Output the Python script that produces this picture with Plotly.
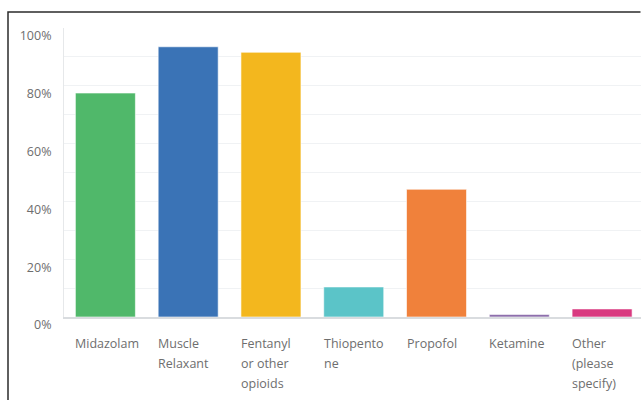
import plotly.graph_objects as go

# Survey responses: share of respondents using each agent
categories = ["Midazolam", "Muscle Relaxant", "Fentanyl or other opioids",
              "Thiopentone", "Propofol", "Ketamine", "Other (please specify)"]
label_lines = [["Midazolam"], ["Muscle", "Relaxant"], ["Fentanyl", "or other", "opioids"],
               ["Thiopento", "ne"], ["Propofol"], ["Ketamine"], ["Other", "(please", "specify)"]]
percent = [77.5, 93.5, 91.6, 10.4, 44.2, 0.9, 2.8]
colors = ["#50b86a", "#3a73b6", "#f3b71e", "#5bc4c8", "#f0813b", "#8d6fac", "#d93a80"]
y_ticks = [0, 10, 20, 30, 40, 50, 60, 70, 80, 90, 100]
y_ticktext = ["0%", "", "20%", "", "40%", "", "60%", "", "80%", "", "100%"]

W, H = 641, 400
ML, MR, MT, MB = 64, 0, 28, 83
plot_w = W - ML - MR
plot_h = H - MT - MB

fig = go.Figure(go.Bar(
    x=list(range(len(categories))),
    y=percent,
    marker=dict(color=colors, line=dict(color="rgba(255,255,255,0.6)", width=1)),
    hovertext=categories,
))

# category labels, left-aligned under each bar, one annotation per line
for i, lines in enumerate(label_lines):
    for j, line in enumerate(lines):
        fig.add_annotation(
            x=i, xref="x", y=0, yref="paper",
            text=line, showarrow=False,
            xanchor="left", yanchor="middle", align="left",
            xshift=-32, yshift=-26 - 20 * j,
            font=dict(family="Open Sans", size=12.5, color="#6e6e6e"),
        )

# outer frame: left edge and top edge, drawn as one open path in pixel units
px = lambda v: (v - ML) / plot_w
py = lambda v: (H - MB - v) / plot_h
fig.add_shape(type="path", xref="paper", yref="paper",
              path=f"M {px(8)},{py(H)} L {px(8)},{py(12)} L {px(W - 0.5)},{py(12)}",
              line=dict(color="#2b2b2b", width=1.5), fillcolor="rgba(0,0,0,0)")

fig.update_layout(
    width=W, height=H,
    margin=dict(l=ML, r=MR, t=MT, b=MB),
    paper_bgcolor="white", plot_bgcolor="white",
    bargap=0.275,
    showlegend=False,
    font=dict(family="Open Sans", color="#6e6e6e"),
    xaxis=dict(range=[-0.5, 6.47], showticklabels=False, showgrid=False,
               zeroline=False, showline=True, linecolor="#d9dcdf", linewidth=1.5,
               fixedrange=True),
    yaxis=dict(range=[0, 100], tickvals=y_ticks, ticktext=y_ticktext,
               showgrid=True, gridcolor="#f0f2f4", gridwidth=1,
               zeroline=False, showline=True, linecolor="#e6e8ea", linewidth=1,
               ticks="", ticklabelstandoff=9, ticklabelshift=8,
               tickfont=dict(family="Open Sans", size=12.5, color="#6e6e6e"),
               fixedrange=True),
)

fig.write_html("out.html", config={"displayModeBar": False})
